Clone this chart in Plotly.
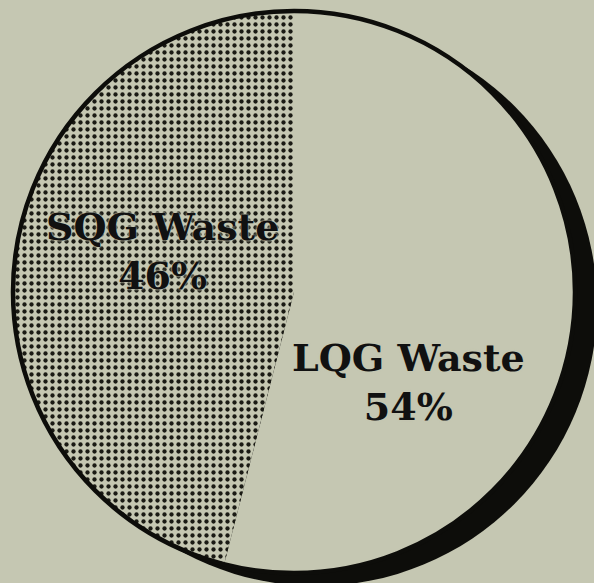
import plotly.graph_objects as go

labels = ["LQG Waste", "SQG Waste"]
values = [54, 46]
label_pos = {"LQG Waste": (408, 382), "SQG Waste": (162, 251)}

W, H = 594, 583
BG = "#c5c7b2"
CX, CY, R = 294, 292, 281
SHADOW_DX, SHADOW_DY = 22, 13


def px_x(x):
    return x / W


def px_y(y):
    return 1 - y / H


fig = go.Figure()
fig.add_trace(go.Pie(
    labels=labels,
    values=values,
    sort=False,
    direction="clockwise",
    rotation=0,
    textinfo="none",
    hoverinfo="label+percent",
    showlegend=False,
    domain=dict(x=[px_x(CX - R), px_x(CX + R)], y=[px_y(CY + R), px_y(CY - R)]),
    marker=dict(
        colors=[BG, BG],
        line=dict(width=0),
        pattern=dict(
            shape=["", "."],
            fgcolor="#1a1a14",
            bgcolor=BG,
            size=7,
            solidity=0.3,
            fillmode="replace",
        ),
    ),
))

shapes = [
    dict(type="circle", xref="paper", yref="paper", layer="below",
         x0=px_x(CX - R + SHADOW_DX), x1=px_x(CX + R + SHADOW_DX),
         y0=px_y(CY + R + SHADOW_DY), y1=px_y(CY - R + SHADOW_DY),
         fillcolor="#0d0d0a", line=dict(width=0)),
    dict(type="circle", xref="paper", yref="paper", layer="above",
         x0=px_x(CX - R), x1=px_x(CX + R),
         y0=px_y(CY + R), y1=px_y(CY - R),
         fillcolor="rgba(0,0,0,0)", line=dict(color="#0d0d0a", width=4.5)),
]

annotations = []
for lab, val in zip(labels, values):
    x, y = label_pos[lab]
    annotations.append(dict(
        text=f"<b>{lab}</b><br><b>{val}%</b>",
        x=px_x(x), y=px_y(y), xref="paper", yref="paper",
        xanchor="center", yanchor="middle", showarrow=False,
        font=dict(family="DejaVu Serif", size=38, color="#111111",
                  shadow=f"0 0 2px {BG}, 0 0 3px {BG}"),
    ))

fig.update_layout(
    width=W, height=H,
    margin=dict(l=0, r=0, t=0, b=0),
    paper_bgcolor=BG,
    plot_bgcolor=BG,
    shapes=shapes,
    annotations=annotations,
)

fig.write_html("out.html")
